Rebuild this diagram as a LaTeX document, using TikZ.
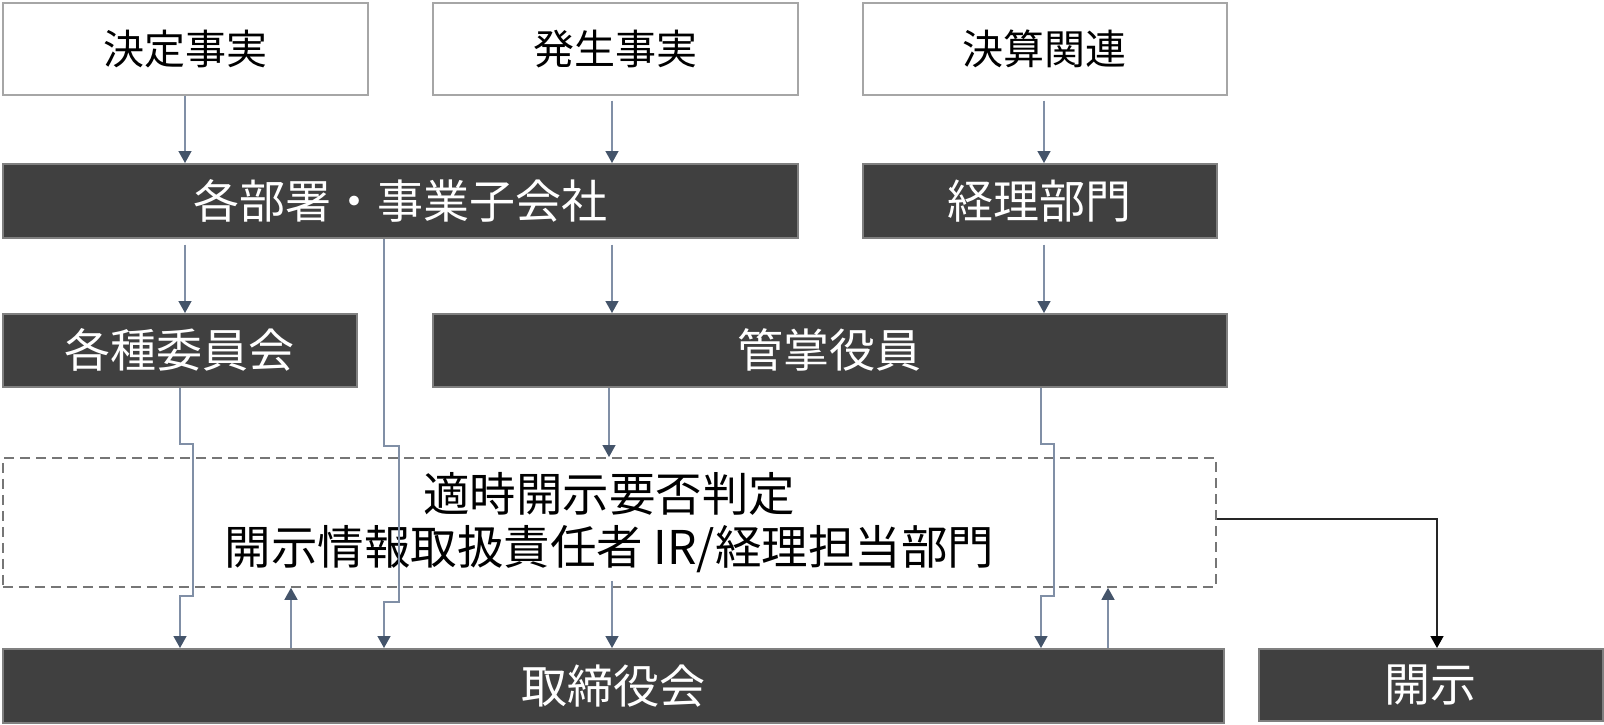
\documentclass[tikz,border=0pt]{standalone}
\usepackage{fontspec}
\setmainfont{Noto Sans CJK JP}
\usetikzlibrary{arrows.meta}
\definecolor{boxdark}{RGB}{64,64,64}
\definecolor{boxedge}{RGB}{128,128,128}
\definecolor{lightedge}{RGB}{166,166,166}
\definecolor{linec}{RGB}{128,143,166}
\definecolor{tipc}{RGB}{68,84,106}
\definecolor{dashc}{RGB}{118,118,118}
\tikzset{
  darkbox/.style={draw=boxedge, line width=1.5pt, fill=boxdark, text=white, anchor=north west, inner sep=0pt, font=\fontsize{46}{54}\selectfont},
  lightbox/.style={draw=lightedge, line width=1.5pt, fill=white, text=black, anchor=north west, inner sep=0pt, font=\fontsize{41}{50}\selectfont},
  dashbox/.style={draw=dashc, line width=1.8pt, dash pattern=on 10pt off 6pt, anchor=north west, inner sep=0pt, align=center, font=\fontsize{46.5}{53}\selectfont},
  conn/.style={draw=linec, line width=1.4pt, -{Triangle[width=13pt,length=12pt,color=tipc]}},
  blackconn/.style={draw=black!85, line width=1.5pt, -{Triangle[width=13pt,length=12pt,color=black]}}
}
\begin{document}
\begin{tikzpicture}[x=1pt,y=-1pt]
\useasboundingbox (0,0) rectangle (1604,724);
\fill[white] (0,0) rectangle (1604,724);

% row 1
\node[lightbox, minimum width=365pt, minimum height=92pt] (kettei) at (2,2) {決定事実};
\node[lightbox, minimum width=365pt, minimum height=92pt] (hassei) at (432,2) {発生事実};
\node[lightbox, minimum width=364pt, minimum height=92pt] (kessan) at (862,2) {決算関連};
% row 2
\node[darkbox, minimum width=795pt, minimum height=74pt] (kakubu) at (2,163) {各部署・事業子会社};
\node[darkbox, minimum width=354pt, minimum height=74pt] (keiri) at (862,163) {経理部門};
% row 3
\node[darkbox, minimum width=354pt, minimum height=73pt] (iinkai) at (2,313) {各種委員会};
\node[darkbox, minimum width=794pt, minimum height=73pt] (kansho) at (432,313) {管掌役員};
% row 4
\node[dashbox, minimum width=1213pt, minimum height=129pt] (hantei) at (2,457) {適時開示要否判定\\開示情報取扱責任者 IR/経理担当部門};
% row 5
\node[darkbox, minimum width=1221pt, minimum height=74pt] (torishimari) at (2,648) {取締役会};
\node[darkbox, minimum width=344pt, minimum height=72pt] (kaiji) at (1258,648) {開示};

% x positions
\coordinate (xA) at (185,0);
\coordinate (xB) at (612,0);
\coordinate (xC) at (1044,0);
\coordinate (xD) at (180,0);
\coordinate (xDj) at (193,0);
\coordinate (xE) at (384,0);
\coordinate (xEj) at (399,0);
\coordinate (xF) at (1041,0);
\coordinate (xFj) at (1054,0);
\coordinate (xG) at (609,0);
\coordinate (xU1) at (291,0);
\coordinate (xU2) at (1108,0);
\coordinate (xK) at (1437,0);
\coordinate (yJ1) at (0,444);
\coordinate (yJ2) at (0,446);
\coordinate (yL1) at (0,596);
\coordinate (yL2) at (0,602);
\coordinate (yR) at (0,519);

% row 1 -> row 2
\draw[conn] (xA |- kettei.south) -- (xA |- kakubu.north);
\draw[conn, shorten <=5pt] (xB |- hassei.south) -- (xB |- kakubu.north);
\draw[conn, shorten <=5pt] (xC |- kessan.south) -- (xC |- keiri.north);
% row 2 -> row 3
\draw[conn, shorten <=6pt] (xA |- kakubu.south) -- (xA |- iinkai.north);
\draw[conn, shorten <=6pt] (xB |- kakubu.south) -- (xB |- kansho.north);
\draw[conn, shorten <=6pt] (xC |- keiri.south) -- (xC |- kansho.north);
% 管掌役員 -> 判定
\draw[conn] (xG |- kansho.south) -- (xG |- hantei.north);
% 各種委員会 -> 取締役会 (with jogs)
\draw[conn] (xD |- iinkai.south) -- (xD |- yJ1) -- (xDj |- yJ1) -- (xDj |- yL1) -- (xD |- yL1) -- (xD |- torishimari.north);
% 各部署 -> 取締役会 (with jogs)
\draw[conn] (xE |- kakubu.south) -- (xE |- yJ2) -- (xEj |- yJ2) -- (xEj |- yL2) -- (xE |- yL2) -- (xE |- torishimari.north);
% 管掌役員 -> 取締役会 (with jogs)
\draw[conn] (xF |- kansho.south) -- (xF |- yJ1) -- (xFj |- yJ1) -- (xFj |- yL1) -- (xF |- yL1) -- (xF |- torishimari.north);
% 判定 -> 取締役会
\draw[conn, shorten <=-7pt] (xB |- hantei.south) -- (xB |- torishimari.north);
% 取締役会 -> 判定
\draw[conn] (xU1 |- torishimari.north) -- (xU1 |- hantei.south);
\draw[conn] (xU2 |- torishimari.north) -- (xU2 |- hantei.south);
% 判定 -> 開示
\draw[blackconn] (hantei.east |- yR) -- (xK |- yR) -- (xK |- kaiji.north);
\end{tikzpicture}
\end{document}
